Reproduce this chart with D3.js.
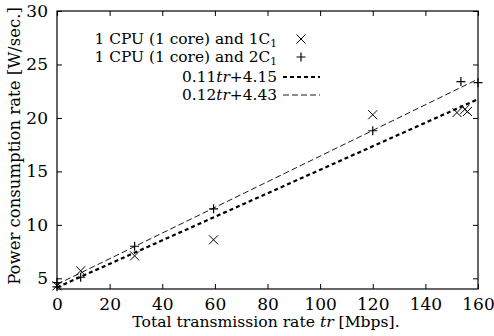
<!DOCTYPE html>
<html>
<head>
<meta charset="utf-8">
<script src="https://cdn.jsdelivr.net/npm/d3@7"></script>
<style>
  body { margin: 0; background: #fff; }
  text { font-family: "DejaVu Serif", "Liberation Serif", serif; fill: #000; }
</style>
</head>
<body>
<div id="chart"></div>
<script>
// Data
const xTicks = [0, 20, 40, 60, 80, 100, 120, 140, 160];
const yTicks = [5, 10, 15, 20, 25, 30];
const cross1C1 = [[0, 4.3], [9, 5.7], [29.5, 7.1], [59.5, 8.6], [120, 20.3], [152, 20.5], [155, 20.8], [156, 20.6]];
const plus2C1 = [[0, 4.2], [0, 4.6], [9, 5.1], [29.5, 8.0], [59.5, 11.5], [120, 18.8], [153.5, 23.4], [160, 23.3]];
const fit1 = [0.11, 4.15];
const fit2 = [0.12, 4.43];

const W = 494, H = 336;
const m = {left: 57, right: 16, top: 11, bottom: 47};

const svg = d3.select("#chart")
    .append("svg")
    .attr("width", W)
    .attr("height", H);

const x = d3.scaleLinear().domain([0, 160]).range([m.left, W - m.right]);
const y = d3.scaleLinear().domain([4, 30]).range([H - m.bottom, m.top]);

// Axes with inward ticks on all sides
svg.append("g")
    .attr("transform", `translate(0,${H - m.bottom})`)
    .call(d3.axisBottom(x).tickValues(xTicks).tickSizeInner(-5).tickSizeOuter(0).tickPadding(9))
    .call(g => g.select(".domain").remove());
svg.append("g")
    .attr("transform", `translate(0,${m.top})`)
    .call(d3.axisTop(x).tickValues(xTicks).tickSizeInner(-5).tickSizeOuter(0).tickFormat(""))
    .call(g => g.select(".domain").remove());
svg.append("g")
    .attr("transform", `translate(${m.left},0)`)
    .call(d3.axisLeft(y).tickValues(yTicks).tickSizeInner(-5).tickSizeOuter(0).tickPadding(9))
    .call(g => g.select(".domain").remove());
svg.append("g")
    .attr("transform", `translate(${W - m.right},0)`)
    .call(d3.axisRight(y).tickValues(yTicks).tickSizeInner(-5).tickSizeOuter(0).tickFormat(""))
    .call(g => g.select(".domain").remove());

svg.selectAll(".tick text")
    .style("font-family", "DejaVu Serif")
    .style("font-size", "17px");
svg.selectAll(".tick line").attr("stroke", "#000");

// Frame
svg.append("rect")
    .attr("x", m.left).attr("y", m.top)
    .attr("width", W - m.left - m.right)
    .attr("height", H - m.top - m.bottom)
    .attr("fill", "none")
    .attr("stroke", "#000")
    .attr("stroke-width", 1.2);

// Fit lines
const plot = svg.append("g");
function fitLine(f, dash, width) {
    plot.append("line")
        .attr("x1", x(0)).attr("y1", y(f[1]))
        .attr("x2", x(160)).attr("y2", y(f[0] * 160 + f[1]))
        .attr("stroke", "#000")
        .attr("stroke-width", width)
        .attr("stroke-dasharray", dash);
}
fitLine(fit1, "4,3", 2.2);
fitLine(fit2, "6,3", 0.9);

// Markers
const s = 4.5;
function cross(g, cx, cy) {
    g.append("path")
        .attr("d", `M${cx - s},${cy - s}L${cx + s},${cy + s}M${cx - s},${cy + s}L${cx + s},${cy - s}`)
        .attr("stroke", "#000").attr("stroke-width", 1).attr("fill", "none");
}
function plus(g, cx, cy) {
    g.append("path")
        .attr("d", `M${cx - s},${cy}L${cx + s},${cy}M${cx},${cy - s}L${cx},${cy + s}`)
        .attr("stroke", "#000").attr("stroke-width", 1.2).attr("fill", "none");
}
cross1C1.forEach(d => cross(plot, x(d[0]), y(d[1])));
plus2C1.forEach(d => plus(plot, x(d[0]), y(d[1])));

// Legend
const legend = svg.append("g");
const textEnd = 277, symX = 301, lineX1 = 283, lineX2 = 320;
const rows = [39, 57, 77, 95];

function legendText(yy, parts) {
    const t = legend.append("text")
        .attr("x", textEnd).attr("y", yy + 5)
        .attr("text-anchor", "end")
        .style("font-size", "15.4px");
    parts.forEach(p => {
        const ts = t.append("tspan").text(p.t);
        if (p.i) ts.style("font-style", "italic");
        if (p.sub) ts.attr("baseline-shift", "-25%").style("font-size", "10.5px");
    });
}
legendText(rows[0], [{t: "1 CPU (1 core) and 1C"}, {t: "1", sub: true}]);
legendText(rows[1], [{t: "1 CPU (1 core) and 2C"}, {t: "1", sub: true}]);
legendText(rows[2], [{t: "0.11"}, {t: "tr", i: true}, {t: "+4.15"}]);
legendText(rows[3], [{t: "0.12"}, {t: "tr", i: true}, {t: "+4.43"}]);
cross(legend, symX, rows[0]);
plus(legend, symX, rows[1]);
legend.append("line").attr("x1", lineX1).attr("x2", lineX2).attr("y1", rows[2]).attr("y2", rows[2])
    .attr("stroke", "#000").attr("stroke-width", 2.2).attr("stroke-dasharray", "4,3");
legend.append("line").attr("x1", lineX1).attr("x2", lineX2).attr("y1", rows[3]).attr("y2", rows[3])
    .attr("stroke", "#000").attr("stroke-width", 0.9).attr("stroke-dasharray", "6,3");

// Axis titles
const xt = svg.append("text")
    .attr("x", 266)
    .attr("y", 327)
    .attr("text-anchor", "middle")
    .style("font-size", "15.6px");
xt.append("tspan").text("Total transmission rate ");
xt.append("tspan").text("tr").style("font-style", "italic");
xt.append("tspan").text(" [Mbps].");

svg.append("text")
    .attr("transform", `translate(20,146) rotate(-90)`)
    .attr("text-anchor", "middle")
    .style("font-size", "16.5px")
    .text("Power consumption rate [W/sec.]");
</script>
</body>
</html>
